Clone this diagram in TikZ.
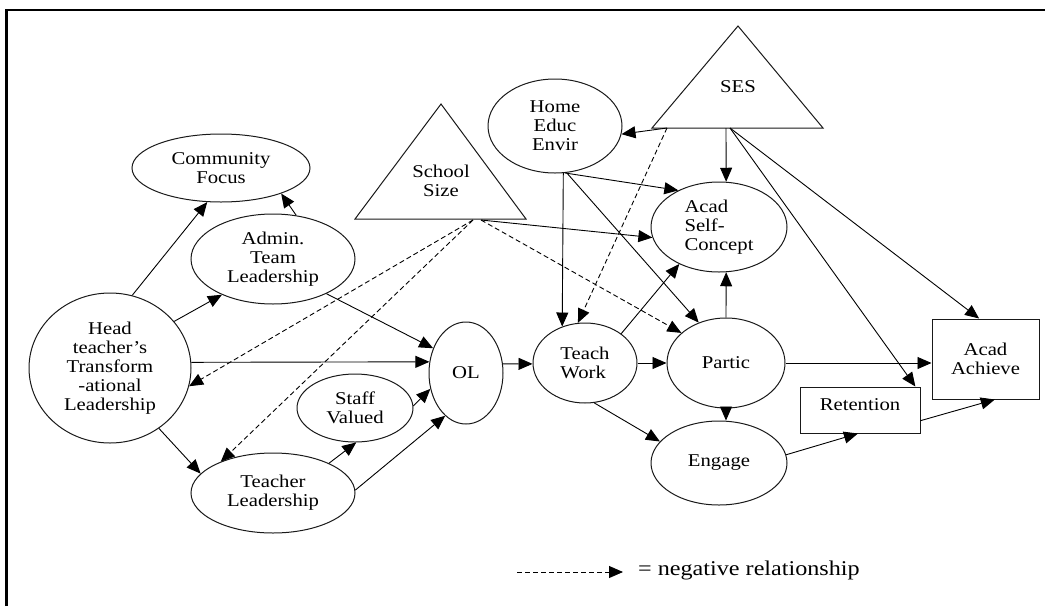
\documentclass[tikz,border=0pt]{standalone}
\usepackage{fontspec}
\setmainfont{Liberation Serif}[FakeStretch=1.15]
\usetikzlibrary{shapes.geometric,arrows.meta}

\begin{document}
\begin{tikzpicture}[x=1pt,y=-1pt,
  every node/.style={font=\fontsize{18}{19}\selectfont, inner sep=0pt, align=center},
  oval/.style={draw=black!90, line width=1pt, ellipse},
  boxn/.style={draw=black!90, line width=1pt, rectangle},
  tri/.style={draw=black!90, line width=1pt},
  link/.style={line width=0.9pt, -{Triangle[length=14pt,width=12pt]}},
  neg/.style={link, dash pattern=on 5pt off 3pt},
]
\useasboundingbox (0,0) rectangle (1045,606);

% frame
\draw[line width=2.5pt] (6.5,606) -- (6.5,10) -- (1045,10);

% leadership side
\node[oval, minimum width=162pt, minimum height=150pt] (head) at (110,368)
  {Head\\teacher’s\\Transform\\-ational\\Leadership};
\node[oval, minimum width=178pt, minimum height=68pt] (cf) at (221,168) {Community\\Focus};
\node[oval, minimum width=164pt, minimum height=90pt] (admin) at (273,259) {Admin.\\Team\\Leadership};
\node[oval, minimum width=164pt, minimum height=80pt] (tl) at (273,493) {Teacher\\Leadership};
\node[oval, minimum width=116pt, minimum height=68pt] (sv) at (355,408) {Staff\\Valued};
\node[oval, minimum width=74pt, minimum height=102pt] (ol) at (466,373) {OL};

% school size
\draw[tri] (441,104) -- (526,219) -- (355,219) -- cycle;
\node (ss) at (441,181) {School\\Size};
\coordinate (ss-a) at (473,220);
\coordinate (ss-b) at (481,220);

% SES
\draw[tri] (738,26) -- (823,128) -- (652,128) -- cycle;
\node (ses) at (738,87) {SES};
\coordinate (ses-a) at (667,128);
\coordinate (ses-b) at (726,128);
\coordinate (ses-c) at (730,128);

% student side
\node[oval, minimum width=134pt, minimum height=94pt] (home) at (555,126) {Home\\Educ\\Envir};
\node[oval, minimum width=136pt, minimum height=90pt, align=left] (asc) at (719,227) {Acad\\Self-\\Concept};
\node[oval, minimum width=104pt, minimum height=80pt, align=left] (tw) at (585,363) {Teach\\Work};
\node[oval, minimum width=118pt, minimum height=90pt] (partic) at (726,363) {Partic};
\node[oval, minimum width=136pt, minimum height=84pt] (engage) at (719,463) {Engage};
\node[boxn, minimum width=107pt, minimum height=80pt] (achieve) at (985.5,359) {Acad\\Achieve};
\node[boxn, minimum width=120pt, minimum height=46pt, text height=12pt, text depth=12pt] (ret) at (860,410) {Retention};

% connectors
\draw[link] (head.73) -- (cf.248);
\draw[link] (head.36) -- (admin.215);
\draw[link] (admin.62) -- (cf.337);
\draw[link] (admin.327) -- (ol.143);
\draw[link] (head.4) -- (ol.163);
\draw[neg] (ss-a) -- (head.347);
\draw[neg] (ss-a) -- (tl.149);
\draw[link] (head.309) -- (tl.165);
\draw[link] (tl.28) -- (sv.272);
\draw[link] (sv.2) -- (ol.204);
\draw[link] (tl.2) -- (ol.244);
\draw[link] (ol.14) -- (tw.181);

\draw[link] (ses-a) -- (home.353);
\draw[neg] (ses-a) -- (tw.100);
\draw[link] (ses-b) -- (asc.81);
\draw[link] (ses-c) -- (ret.23);
\draw[link] (ses-c) -- (achieve.99);
\draw[link] (home.280) -- (tw.122);
\draw[link] (home.282) -- (asc.138);
\draw[link] (home.284) -- (partic.124);
\draw[link] (ss-b) -- (asc.189);
\draw[neg] (ss-b) -- (partic.146);
\draw[link] (tw.39) -- (asc.223);
\draw[link] (tw.east) -- (partic.west);
\draw[link] (partic.north) -- (asc.279);
\draw[link] (partic.east) -- (partic.east -| achieve.west);
\draw[link] (partic.south) -- (partic.south |- engage.north);
\draw[link] (tw.283) -- (engage.160);
\draw[link] (engage.7) -- (ret.265);
\draw[link] (ret.350) -- (achieve.283);

% legend
\coordinate (lg-a) at (517,572);
\coordinate (lg-b) at (623,572);
\draw[neg] (lg-a) -- (lg-b);
\node[anchor=base west, font=\fontsize{21}{22}\selectfont] (lg-txt) at (638,575) {= negative relationship};
\end{tikzpicture}
\end{document}
